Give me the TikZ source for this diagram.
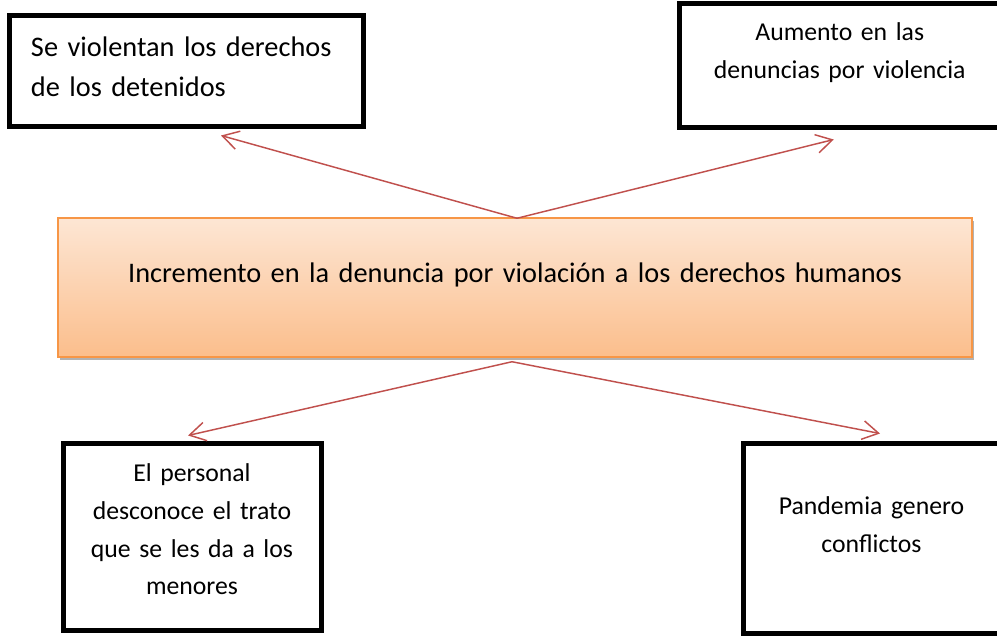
\documentclass[tikz,border=0pt]{standalone}
\usepackage{fontspec}
\setmainfont{Carlito}
\usetikzlibrary{arrows.meta, positioning, calc, shadows}

\definecolor{arrowred}{HTML}{C0504D}
\definecolor{mainedge}{HTML}{F79646}
\definecolor{maintop}{HTML}{FDE6D4}
\definecolor{mainbot}{HTML}{FBBE8C}

\begin{document}
\begin{tikzpicture}[x=0.75pt, y=-0.75pt,
      box/.style={draw, line width=3.75pt, inner ysep=0pt, align=center,
                  font=\fontsize{19.3}{28.2}\selectfont},
      main/.style={draw=mainedge, line width=1.1pt, inner ysep=0pt,
                   top color=maintop, bottom color=mainbot, align=center,
                   drop shadow={shadow xshift=1.2pt, shadow yshift=-2.5pt,
                                fill=black, opacity=.3},
                   font=\fontsize{21.25}{30}\selectfont},
      arrow/.style={-{Straight Barb[length=12pt,width=14pt]},
                    draw=arrowred, line width=1.1pt}]

    \useasboundingbox (0,0) rectangle (997,638);
    \clip (0,0) rectangle (997,638);

    \node[main, text width=637.5pt, inner xsep=24pt,
          text height=48pt, text depth=56.25pt] (incr) at (515,287.5)
          {Incremento en la denuncia por violación a los derechos humanos};

    \node[box, align=left, font=\fontsize{21.25}{30}\selectfont,
          text width=232.5pt, inner xsep=16.5pt,
          text height=30.75pt, text depth=52.5pt] (detenidos) at (186,71.5)
          {Se violentan los derechos\\de los detenidos};
    \node[box, text width=210pt, inner xsep=15.2pt,
          text height=27.75pt, text depth=64.9pt] (denuncias) at (839.75,65.75)
          {Aumento en las\\denuncias por violencia};
    \node[box, text width=172.5pt, inner xsep=10.5pt,
          text height=28.5pt, text depth=111.4pt] (menores) at (192,537.25)
          {El personal\\desconoce el trato\\que se les da a los\\menores};
    \node[box, text width=171.75pt, inner xsep=10.5pt,
          text height=53.6pt, text depth=89.25pt] (pandemia) at (871.5,538.75)
          {Pandemia genero\\conflictos};

    \draw[arrow] ($(incr.north)+(2,1)$) -- ($(detenidos.south)+(35,6)$);
    \draw[arrow] ($(incr.north)+(2,1)$) -- ($(denuncias.south)+(-6,9.5)$);
    \draw[arrow] ($(incr.south)+(-3,4)$) -- ($(menores.north)+(-4,-6)$);
    \draw[arrow] ($(incr.south)+(-3,4)$) -- ($(pandemia.north)+(8.5,-7.5)$);
  \end{tikzpicture}
\end{document}
